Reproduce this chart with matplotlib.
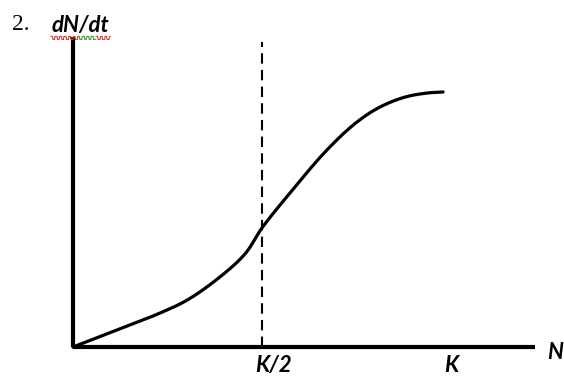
import matplotlib
matplotlib.use("Agg")
import matplotlib.pyplot as plt
import numpy as np

# Curve samples: N (fraction of K) vs dN/dt (fraction of max)
n_vals = [0.0, 0.124, 0.230, 0.302, 0.389, 0.455, 0.500, 0.574, 0.672, 0.751, 0.812, 0.878, 0.937, 0.979]
rate_vals = [0.0, 0.071, 0.133, 0.184, 0.275, 0.365, 0.467, 0.604, 0.773, 0.882, 0.941, 0.980, 0.996, 1.0]
tick_pos = [0.529, 1.001]
tick_labels = ["K/2", "K"]
half_k = 0.5

fig = plt.figure(figsize=(5.64, 3.84), dpi=100)
ax = fig.add_axes([0, 0, 1, 1])
ax.set_xlim(-0.1931, 1.2989)
ax.set_ylim(-0.1451, 1.3608)
ax.axis("off")

# axes lines
ax.plot([0, 1.222], [0, 0], color="black", lw=3.0, solid_capstyle="butt")
ax.plot([0, 0], [0, 1.216], color="black", lw=3.0, solid_capstyle="butt")

# dashed K/2 line
ax.plot([half_k, half_k], [0, 1.196], color="black", lw=1.5, ls=(0, (5, 3)))

# centripetal Catmull-Rom spline through read points (rendering only)
def catmull_centripetal(P, n=25, alpha=0.5):
    P = np.asarray(P, dtype=float)
    P = np.vstack([2 * P[0] - P[1], P, 2 * P[-1] - P[-2]])
    out = []
    for i in range(1, len(P) - 2):
        p0, p1, p2, p3 = P[i - 1], P[i], P[i + 1], P[i + 2]
        t0 = 0.0
        t1 = t0 + np.linalg.norm(p1 - p0) ** alpha
        t2 = t1 + np.linalg.norm(p2 - p1) ** alpha
        t3 = t2 + np.linalg.norm(p3 - p2) ** alpha
        for t in np.linspace(t1, t2, n, endpoint=False):
            a1 = (t1 - t) / (t1 - t0) * p0 + (t - t0) / (t1 - t0) * p1
            a2 = (t2 - t) / (t2 - t1) * p1 + (t - t1) / (t2 - t1) * p2
            a3 = (t3 - t) / (t3 - t2) * p2 + (t - t2) / (t3 - t2) * p3
            b1 = (t2 - t) / (t2 - t0) * a1 + (t - t0) / (t2 - t0) * a2
            b2 = (t3 - t) / (t3 - t1) * a2 + (t - t1) / (t3 - t1) * a3
            out.append((t2 - t) / (t2 - t1) * b1 + (t - t1) / (t2 - t1) * b2)
    out.append(P[-2])
    return np.array(out)

c = catmull_centripetal(np.column_stack([n_vals, rate_vals]))
ax.plot(c[:, 0], c[:, 1], color="black", lw=2.3, solid_capstyle="round")

lab_font = dict(family="Lato", style="italic", fontweight="bold", fontsize=16)
for p, l in zip(tick_pos, tick_labels):
    ax.text(p, -0.0745, l, ha="center", va="center", **lab_font)
ax.text(1.275, -0.02, "N", ha="center", va="center", **lab_font)
ax.text(0.0185, 1.259, "dN/dt", ha="center", va="center", **lab_font)
ax.text(-0.162, 1.263, "2.", ha="left", va="center", family="Liberation Serif", fontsize=17)

# spell-check wavy underline under dN/dt
wx = np.linspace(-0.058, 0.098, 120)
wy = 1.212 + 0.006 * np.sign(np.sin(wx * 2 * np.pi / 0.012))
mask_g = (wx > 0.015) & (wx < 0.06)
ax.plot(np.where(mask_g, np.nan, wx), wy, color="#d04040", lw=0.8)
ax.plot(np.where(mask_g, wx, np.nan), wy, color="#40a040", lw=0.8)

fig.savefig("out.png", dpi=100)
